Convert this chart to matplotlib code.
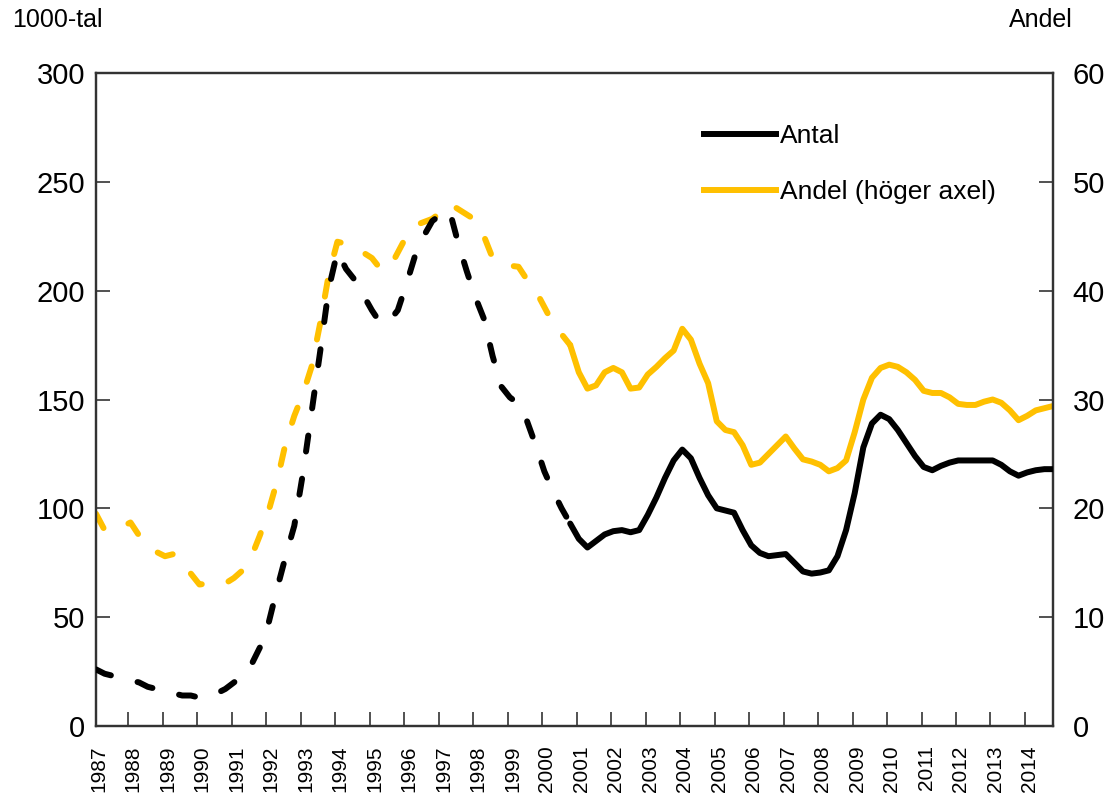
import numpy as np
import matplotlib
matplotlib.use("Agg")
import matplotlib.pyplot as plt
from matplotlib.lines import Line2D

plt.rcParams["font.family"] = ["Liberation Sans", "DejaVu Sans"]

years = list(range(1987, 2015))

# Antal, 1000-tal, quarterly 1987Q1 - 2014Q4
antal = [26, 24, 23, 22, 21, 20, 18, 17,
         16, 15, 14, 14, 13, 13.5, 15, 17,
         20, 23, 28, 36, 47, 63, 78, 92,
         116, 144, 172, 201, 218, 210, 205, 198,
         191, 185, 186, 191, 203, 216, 225, 232,
         235, 237, 222, 209, 197, 187, 170, 156,
         151, 148, 140, 129, 117, 108, 100, 93,
         86, 82, 85, 88, 89.5, 90, 89, 90,
         97, 105, 114, 122, 127, 123, 114, 106,
         100, 99, 98, 90, 83, 79.5, 78, 78.5,
         79, 75, 71, 70, 70.5, 71.5, 78, 90,
         107, 128, 139, 143, 141, 136, 130, 124,
         119, 117.5, 119.5, 121, 122, 122, 122, 122,
         122, 120, 117, 115, 116.5, 117.5, 118, 118]

# Andel (höger axel)
andel = [19.5, 18, 18, 18.3, 18.7, 17.5, 16.5, 16,
         15.6, 15.8, 15.2, 14, 13, 13.1, 13, 13.1,
         13.6, 14.3, 15.5, 17.5, 19.7, 22.5, 26, 28.5,
         30.5, 33, 37, 41.5, 44.5, 44.3, 43.8, 43.5,
         43, 42, 42, 43.5, 45, 46, 46.3, 46.6,
         47.2, 48, 47.5, 47, 46.5, 45, 43, 42.5,
         42.3, 42.2, 41, 40, 38.5, 37, 36, 35,
         32.5, 31, 31.3, 32.5, 32.9, 32.5, 31, 31.1,
         32.3, 33, 33.8, 34.5, 36.5, 35.5, 33.3, 31.5,
         28, 27.2, 27, 25.8, 24, 24.2, 25, 25.8,
         26.6, 25.5, 24.5, 24.3, 24, 23.4, 23.7, 24.4,
         27, 30, 32, 32.9, 33.2, 33, 32.5, 31.8,
         30.8, 30.6, 30.6, 30.2, 29.6, 29.5, 29.5, 29.8,
         30, 29.7, 29, 28.1, 28.5, 29, 29.2, 29.4]

split = 55  # dashed before, solid after
gold = "#FFC000"
lw = 4.3
dash = (2.7, 4.6)

x = np.arange(len(antal))

fig = plt.figure(figsize=(11.15, 8.07), dpi=100)
ax = fig.add_axes([0.0861, 0.1004, 0.8583, 0.8091])
ax2 = ax.twinx()

ax.plot(x[:split + 1], antal[:split + 1], color="black", lw=lw,
        linestyle=(0, dash), dash_capstyle="round", zorder=3)
ax.plot(x[split:], antal[split:], color="black", lw=lw,
        solid_capstyle="round", solid_joinstyle="round", zorder=3)
ax2.plot(x[:split + 1], andel[:split + 1], color=gold, lw=lw,
         linestyle=(0, dash), dash_capstyle="round", zorder=2)
ax2.plot(x[split:], andel[split:], color=gold, lw=lw,
         solid_capstyle="round", solid_joinstyle="round", zorder=2)
ax.set_zorder(ax2.get_zorder() + 1)
ax.patch.set_visible(False)

ax.set_xlim(0, len(antal) - 1)
ax.set_ylim(0, 300)
ax2.set_ylim(0, 60)
ax.set_yticks(range(0, 301, 50))
ax2.set_yticks(range(0, 61, 10))

ax.set_xticks([4 * k + 0.3 for k in range(len(years))])
ax.set_xticklabels([str(y) for y in years], rotation=90, fontsize=15)
ax.set_xticks([4 * k - 0.25 for k in range(1, len(years))], minor=True)
ax.tick_params(axis="x", which="major", length=0, pad=14)
ax.tick_params(axis="x", which="minor", direction="in", length=10, width=1.2, color="#333333")

ax.tick_params(axis="y", direction="in", length=10, width=1.2, color="#333333",
               labelsize=21, pad=8)
ax2.tick_params(axis="y", direction="in", length=10, width=1.2, color="#333333",
                labelsize=21, pad=14)

for a in (ax, ax2):
    for s in a.spines.values():
        s.set_color("#333333")
        s.set_linewidth(1.6)

fig.text(0.011, 0.975, "1000-tal", fontsize=18, va="center", ha="left")
fig.text(0.962, 0.975, "Andel", fontsize=18, va="center", ha="right")

# legend
handles = [Line2D([], [], color="black", lw=lw),
           Line2D([], [], color=gold, lw=lw)]
leg = ax.legend(handles, ["Antal", "Andel (höger axel)"], loc="upper left",
                bbox_to_anchor=(0.61, 0.958), frameon=False, fontsize=19,
                handlelength=2.75, handletextpad=0.15, labelspacing=1.2)

fig.savefig("out.png", dpi=100)
